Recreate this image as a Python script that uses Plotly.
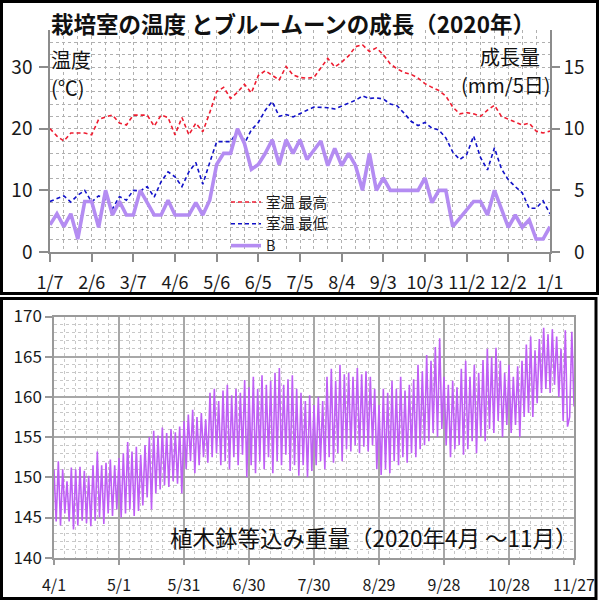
import pandas as pd
import plotly.graph_objects as go

# ---------------- data ----------------
TOP_TICK_LABELS = ["1/7", "2/6", "3/7", "4/6", "5/6", "6/5", "7/5", "8/4",
                   "9/3", "10/3", "11/2", "12/2", "1/1"]

# 室温 最高 (°C), every 5 days from 2020-01-07
TEMP_MAX = [20.0, 18.8, 18.0, 19.3, 19.3, 19.3, 19.0, 21.5, 21.9, 22.2,
            20.9, 20.6, 22.2, 22.2, 22.2, 20.4, 22.2, 21.8, 19.0, 21.8,
            19.0, 20.9, 19.5, 22.6, 26.0, 26.7, 24.9, 25.9, 27.2, 25.8,
            28.6, 29.4, 28.7, 27.9, 30.1, 28.7, 28.3, 28.2, 28.3, 29.8,
            31.4, 30.0, 30.8, 31.8, 33.3, 33.6, 32.5, 33.1, 32.0, 30.5,
            29.7, 29.1, 28.8, 28.2, 27.3, 26.7, 26.2, 25.3, 23.5, 22.4,
            22.6, 22.4, 22.0, 23.0, 23.8, 22.0, 21.5, 21.1, 20.6, 20.9,
            19.6, 19.3, 19.6]

# 室温 最低 (°C)
TEMP_MIN = [8.2, 8.7, 9.1, 8.1, 9.2, 10.0, 8.1, 9.1, 8.7, 7.0,
            9.0, 8.4, 10.0, 9.9, 10.6, 8.9, 11.4, 13.0, 12.2, 10.6,
            13.0, 14.5, 11.0, 14.5, 17.9, 17.9, 17.9, 19.6, 17.6, 19.8,
            21.0, 23.0, 24.4, 22.0, 22.3, 21.9, 22.5, 23.0, 23.5, 23.5,
            23.4, 23.2, 23.7, 24.2, 24.6, 25.3, 24.9, 25.0, 24.8, 24.0,
            23.7, 22.5, 21.2, 20.5, 21.0, 20.1, 19.8, 18.5, 16.2, 15.0,
            15.8, 18.8, 15.3, 13.3, 16.9, 13.5, 11.7, 10.6, 9.6, 7.1,
            7.1, 8.3, 6.2]

# B 成長量 (mm/5日)
GROWTH_B = [2.2, 3.1, 2.05, 3.1, 1.05, 4.1, 4.1, 2.0, 5.0, 3.0,
            4.1, 3.0, 3.0, 5.0, 4.0, 3.0, 3.0, 4.2, 3.0, 3.0,
            3.0, 4.0, 3.0, 4.2, 7.1, 8.0, 8.0, 10.0, 8.8, 6.7,
            7.1, 8.0, 9.1, 7.1, 9.1, 8.0, 9.1, 7.5, 8.2, 9.0,
            7.0, 8.4, 7.0, 8.0, 7.0, 5.0, 8.0, 5.0, 6.0, 5.0,
            5.0, 5.0, 5.0, 5.0, 6.0, 4.0, 5.0, 5.0, 2.05, 2.7,
            3.4, 4.1, 4.1, 3.0, 5.0, 3.5, 2.0, 3.0, 2.0, 2.6,
            1.05, 1.05, 2.05]

BOTTOM_TICK_LABELS = ["4/1", "5/1", "5/31", "6/30", "7/30", "8/29",
                      "9/28", "10/28", "11/27"]

# 植木鉢等込み重量 (g), daily readings from 2020-04-01
WEIGHT = [151.0, 144.5, 152.0, 144.0, 151.0, 145.5, 149.5, 144.5, 151.2, 143.5,
          151.0, 144.0, 151.3, 144.6, 150.8, 144.3, 150.2, 143.9, 151.5, 144.6,
          153.2, 145.0, 151.5, 144.2, 151.8, 145.5, 152.2, 145.2, 151.5, 146.0,
          152.4, 145.0, 153.0, 145.5, 154.4, 146.0, 153.2, 145.2, 153.8, 145.8,
          152.8, 146.5, 154.0, 147.5, 155.0, 146.0, 155.8, 148.0, 155.2, 148.5,
          156.2, 149.0, 155.5, 148.8, 156.0, 149.5, 155.6, 149.2, 156.3, 148.0,
          157.0, 151.0, 157.8, 152.0, 158.4, 150.5, 157.5, 151.5, 158.0, 152.5,
          157.2, 151.8, 160.5, 152.5, 161.0, 153.0, 159.5, 151.5, 160.8, 152.0,
          161.5, 151.0, 160.2, 152.5, 161.0, 151.5, 160.5, 152.8, 162.1, 150.0,
          161.2, 151.5, 162.5, 150.5, 161.0, 152.0, 162.7, 151.0, 161.5, 152.5,
          162.0, 150.5, 163.0, 152.0, 163.6, 151.5, 161.5, 152.8, 162.2, 150.8,
          162.7, 151.5, 161.0, 150.2, 160.5, 151.5, 159.5, 150.0, 160.2, 150.8,
          159.0, 151.5, 160.0, 152.0, 159.5, 151.0, 162.5, 152.5, 163.5, 151.8,
          162.0, 153.0, 164.0, 152.0, 162.8, 153.5, 163.0, 153.2, 162.5, 154.0,
          163.6, 153.0, 162.8, 153.8, 163.2, 153.2, 162.5, 154.0, 161.0, 151.0,
          159.0, 150.3, 161.0, 151.0, 160.5, 150.5, 162.0, 152.0, 161.0, 151.5,
          162.5, 152.5, 160.8, 151.8, 161.5, 153.0, 162.2, 152.5, 164.0, 153.5,
          163.2, 154.0, 165.2, 154.5, 164.5, 155.5, 166.2, 155.0, 167.3, 156.0,
          162.5, 154.0, 161.5, 152.5, 162.0, 153.5, 161.2, 154.0, 163.5, 152.8,
          164.5, 153.5, 162.5, 154.5, 164.0, 153.0, 163.0, 155.0, 164.6, 154.5,
          166.0, 156.0, 165.0, 155.5, 166.1, 157.0, 164.5, 155.0, 163.0, 156.5,
          164.0, 155.5, 162.5, 156.5, 163.8, 155.0, 164.5, 157.5, 166.5, 158.0,
          167.5, 157.5, 165.8, 159.2, 167.2, 160.5, 168.6, 161.0, 167.8, 160.5,
          168.4, 161.5, 167.5, 160.0, 166.0, 157.0, 168.3, 156.3, 157.5, 168.1,
          158.8]

# ---------------- derived axes values ----------------
top_dates = pd.date_range("2020-01-07", periods=len(TEMP_MAX), freq="5D").strftime("%Y-%m-%d").tolist()
top_ticks = pd.date_range("2020-01-07", periods=len(TOP_TICK_LABELS), freq="30D").strftime("%Y-%m-%d").tolist()
w_dates = pd.date_range("2020-04-01", periods=len(WEIGHT), freq="D").strftime("%Y-%m-%d").tolist()
bot_ticks = pd.date_range("2020-04-01", periods=len(BOTTOM_TICK_LABELS), freq="30D").strftime("%Y-%m-%d").tolist()

FONT = "Noto Sans CJK JP, Noto Sans, sans-serif"
W = H = 600


def px(p):
    return p / W


def py(p):
    return 1 - p / H


fig = go.Figure()

fig.add_trace(go.Scatter(x=top_dates, y=TEMP_MAX, name="室温 最高", mode="lines",
                         line=dict(color="#ee1c30", width=1.6, dash="4px,3px"),
                         xaxis="x", yaxis="y"))
fig.add_trace(go.Scatter(x=top_dates, y=TEMP_MIN, name="室温 最低", mode="lines",
                         line=dict(color="#1010c8", width=1.6, dash="4px,3px"),
                         xaxis="x", yaxis="y"))
fig.add_trace(go.Scatter(x=top_dates, y=GROWTH_B, name="B", mode="lines",
                         line=dict(color="#b48cf2", width=3.6),
                         xaxis="x", yaxis="y2"))
fig.add_trace(go.Scatter(x=w_dates, y=WEIGHT, name="重量", mode="lines",
                         line=dict(color="#bf5ff5", width=1.6),
                         showlegend=False, xaxis="x2", yaxis="y3"))

AX = "#8c8c8c"
DOT = "#b0b0b0"
TXT = "#1a1a1a"

fig.update_layout(
    template="none",
    width=W, height=H,
    margin=dict(l=0, r=0, t=0, b=0, pad=0, autoexpand=False),
    paper_bgcolor="white", plot_bgcolor="white",
    font=dict(family=FONT, color=TXT),
    showlegend=True,
    legend=dict(x=px(226), y=py(186), xanchor="left", yanchor="top",
                bgcolor="rgba(0,0,0,0)", font=dict(size=14.5, family=FONT, color=TXT),
                itemwidth=30, tracegroupgap=0, borderwidth=0),
    xaxis=dict(domain=[px(50), px(550)], anchor="y", type="date", automargin=False,
               range=["2020-01-07", "2021-01-01"],
               tickmode="array", tickvals=top_ticks, ticktext=TOP_TICK_LABELS,
               ticks="outside", ticklen=8, tickcolor=AX, tickwidth=1.5,
               showline=True, linecolor=AX, linewidth=1.5,
               showgrid=True, gridcolor=DOT, griddash="dot", gridwidth=1,
               minor=dict(tickmode="linear", tick0="2020-01-07", dtick=864000000,
                          showgrid=True, gridcolor=DOT, griddash="dot", gridwidth=1),
               tickfont=dict(size=18, color=TXT), zeroline=False,
               ticklabelstandoff=6),
    yaxis=dict(domain=[py(252), py(30)], anchor="x", range=[0, 36], automargin=False,
               tickmode="array", tickvals=[0, 10, 20, 30],
               ticks="outside", ticklen=9, tickcolor=AX, tickwidth=1.5,
               showline=True, linecolor=AX, linewidth=1.5,
               showgrid=True, gridcolor=DOT, griddash="dot", gridwidth=1,
               minor=dict(tickmode="linear", tick0=0, dtick=2,
                          showgrid=True, gridcolor=DOT, griddash="dot", gridwidth=1),
               tickfont=dict(size=19, color=TXT), zeroline=False,
               ticklabelstandoff=3),
    yaxis2=dict(overlaying="y", side="right", anchor="x", range=[0, 18], automargin=False,
                tickmode="array", tickvals=[0, 5, 10, 15],
                ticktext=["\u20070", "\u20075", "10", "15"],
                ticks="outside", ticklen=8, tickcolor=AX, tickwidth=1.5,
                showline=True, linecolor=AX, linewidth=1.5,
                showgrid=False, zeroline=False,
                tickfont=dict(size=19, color=TXT)),
    xaxis2=dict(domain=[px(54), px(574)], anchor="y3", type="date", automargin=False,
                range=["2020-04-01", "2020-11-27"],
                tickmode="array", tickvals=bot_ticks, ticktext=BOTTOM_TICK_LABELS,
                ticks="outside", ticklen=6, tickcolor="#9a9a9a", tickwidth=1.5,
                showline=True, mirror=True, linecolor="#9a9a9a", linewidth=1.5,
                showgrid=True, gridcolor="#a8a8a8", gridwidth=1.5,
                minor=dict(tickmode="linear", tick0="2020-04-01", dtick=432000000,
                           showgrid=True, gridcolor="#c8c8c8", griddash="dot", gridwidth=1),
                tickfont=dict(size=16, color=TXT), zeroline=False,
                ticklabelstandoff=6),
    yaxis3=dict(domain=[py(557.7), py(316.5)], anchor="x2", range=[140, 170], automargin=False,
                tickmode="linear", tick0=140, dtick=5,
                ticks="outside", ticklen=7, tickcolor="#9a9a9a", tickwidth=1.5,
                showline=True, mirror=True, linecolor="#9a9a9a", linewidth=1.5,
                showgrid=True, gridcolor="#a8a8a8", gridwidth=1.5,
                minor=dict(tickmode="linear", tick0=140, dtick=1,
                           showgrid=True, gridcolor="#c8c8c8", griddash="dot", gridwidth=1),
                tickfont=dict(size=17, color=TXT), zeroline=False),
)

ann = [
    dict(text="<b>栽培室の温度 とブルームーンの成長（2020年）</b>", x=px(49), y=py(23),
         xanchor="left", align="left", yanchor="middle", font=dict(size=22.5, color="#111")),
    dict(text="温度", x=px(49), y=py(60), xanchor="left", align="left", yanchor="middle",
         font=dict(size=20, color="#111")),
    dict(text="(℃)", x=px(49), y=py(87), xanchor="left", align="left", yanchor="middle",
         font=dict(size=20, color="#111")),
    dict(text="成長量", x=px(542), y=py(56), xanchor="right", align="right", yanchor="middle",
         font=dict(size=20, color="#111")),
    dict(text="(mm/5日)", x=px(553), y=py(84), xanchor="right", align="right", yanchor="middle",
         font=dict(size=20, color="#111")),
    dict(text="植木鉢等込み重量（2020年4月 ～11月）", x=px(168), y=py(537),
         xanchor="left", align="left", yanchor="middle", font=dict(size=22.5, color="#111")),
]
for a in ann:
    a.update(xref="paper", yref="paper", showarrow=False)
fig.update_layout(annotations=ann)

shapes = [
    dict(type="rect", x0=px(1.5), x1=px(597.5), y0=py(1.5), y1=py(293.5),
         line=dict(color="black", width=3)),
    dict(type="rect", x0=px(1.5), x1=px(596), y0=py(298.5), y1=py(598.5),
         line=dict(color="black", width=3)),
]
for s in shapes:
    s.update(xref="paper", yref="paper", layer="above")
fig.update_layout(shapes=shapes)

fig.write_html("out.html", config={"displayModeBar": False})
